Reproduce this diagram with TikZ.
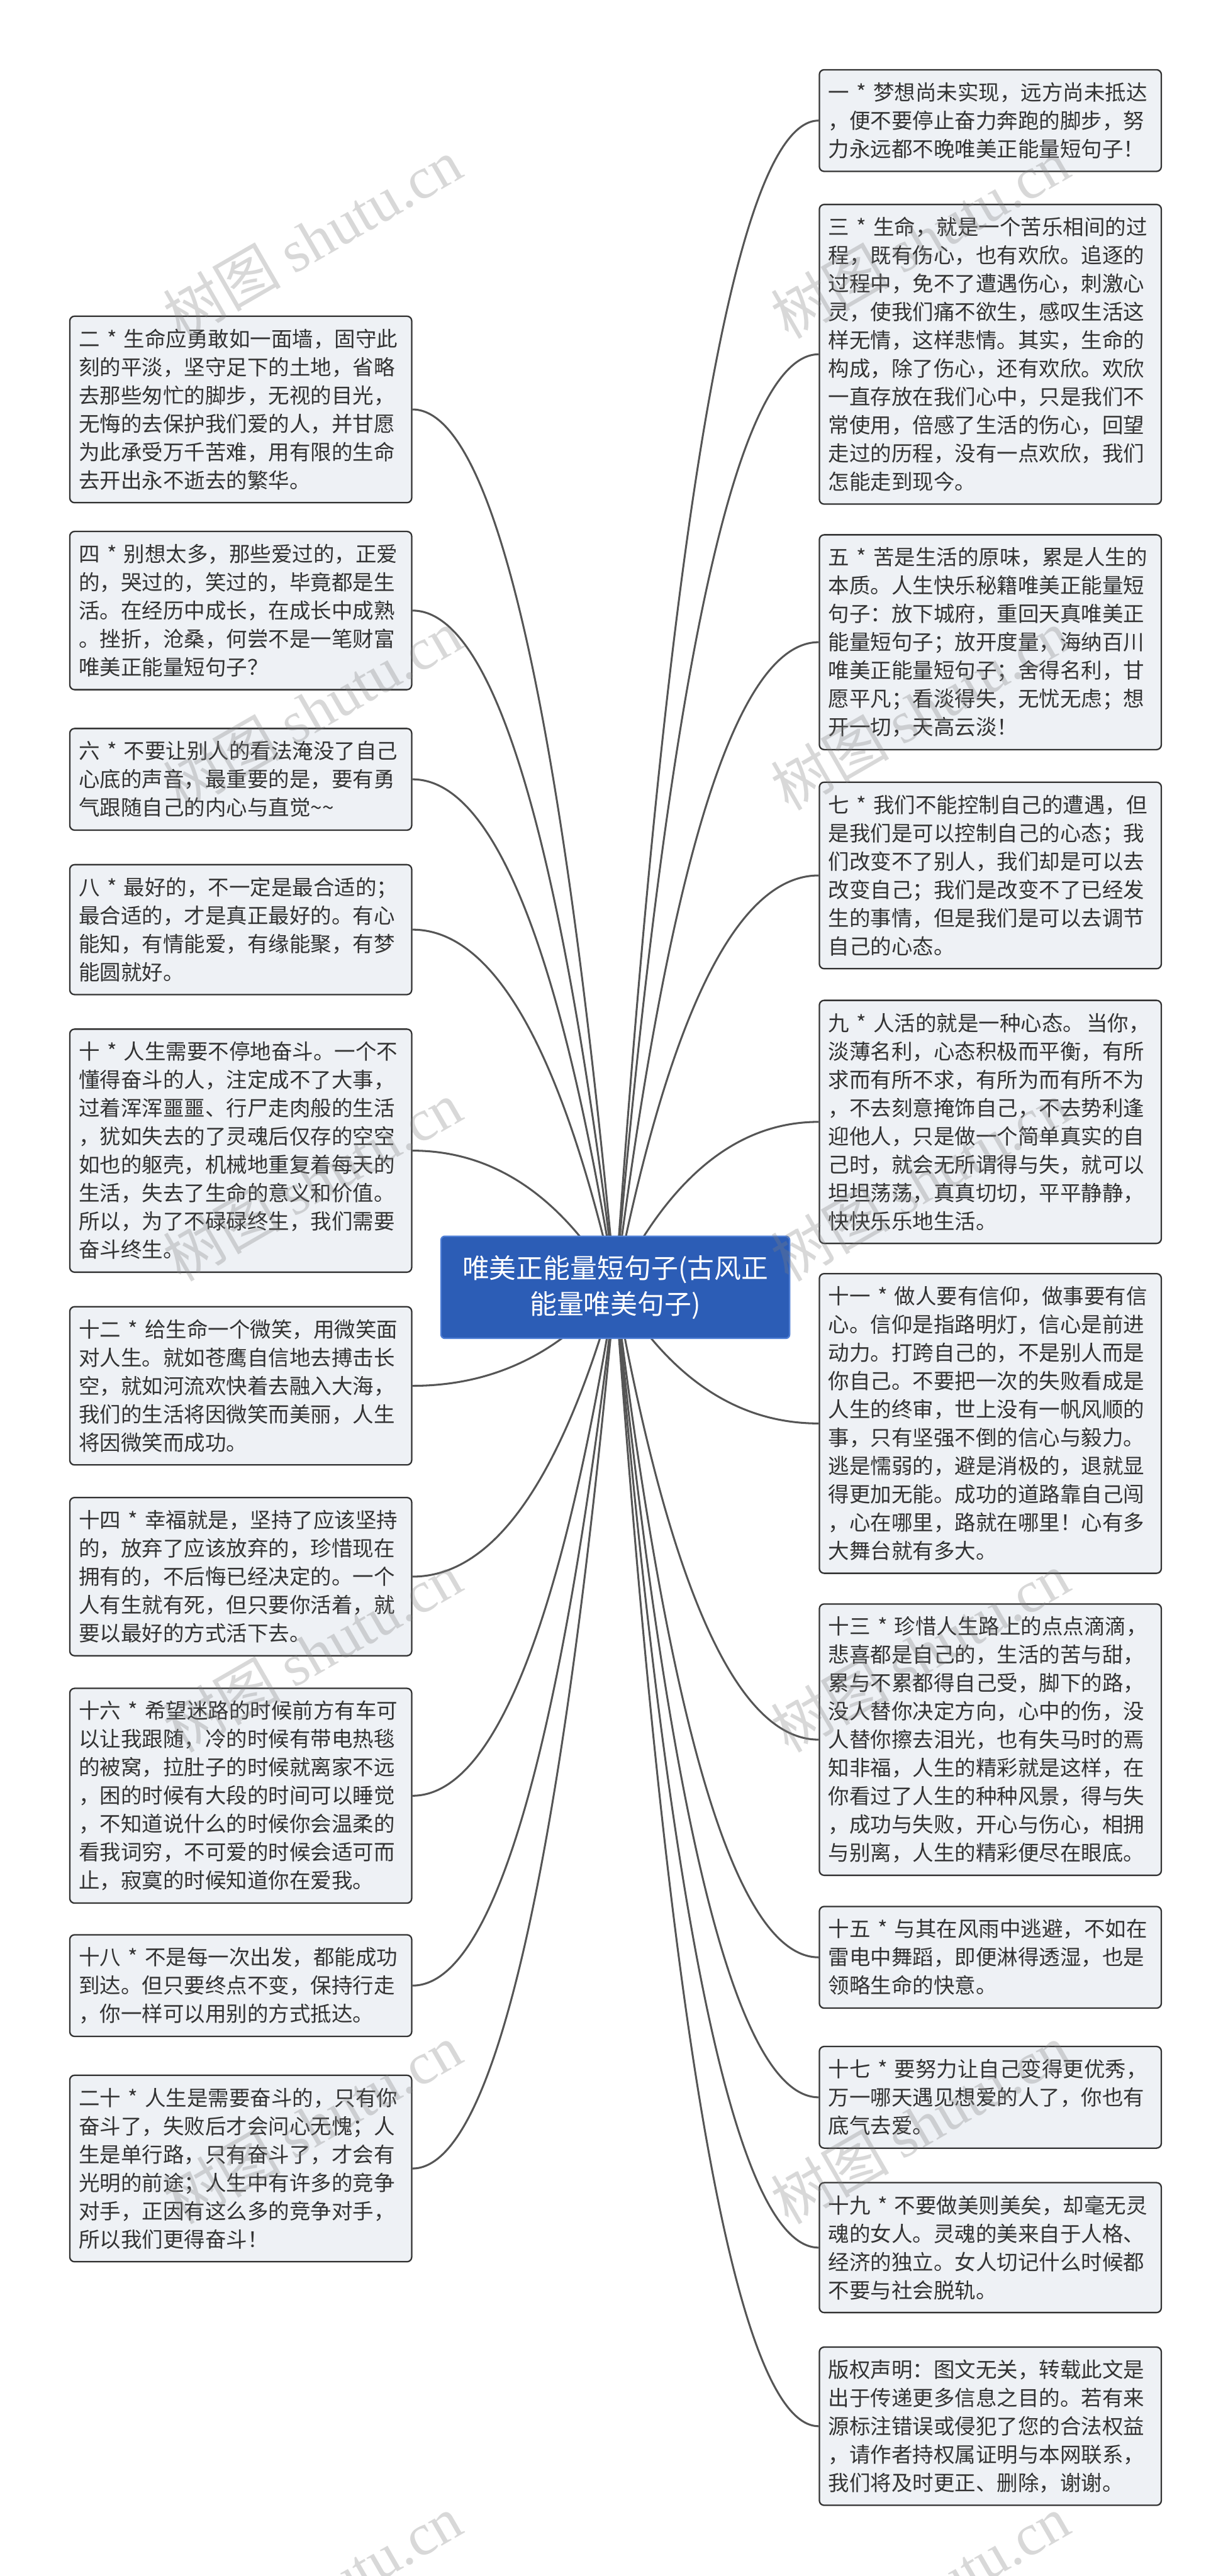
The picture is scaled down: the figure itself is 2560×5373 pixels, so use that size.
\documentclass[tikz,border=0pt]{standalone}
\usepackage{fontspec}
\setmainfont{Noto Sans CJK SC}
\newfontfamily\cjk{Noto Sans CJK SC}
\newfontfamily\wmserif{Liberation Serif}
\usetikzlibrary{calc,backgrounds}
\definecolor{boxfill}{HTML}{EEF1F5}
\definecolor{boxline}{HTML}{333333}
\definecolor{txtc}{HTML}{333333}
\definecolor{linkc}{HTML}{555555}
\definecolor{rootfill}{HTML}{2C5DB6}
\definecolor{rootline}{HTML}{4F7FD6}
\tikzset{
  leaf/.style={draw=boxline, line width=0.3mm, fill=boxfill, rounded corners=1mm,
    anchor=north west, text width=67.5mm, inner xsep=1.9mm, inner ysep=1mm,
    align=left, text=txtc, font=\cjk\fontsize{12.5pt}{16.8pt}\selectfont},
  rootbox/.style={draw=rootline, line width=0.3mm, fill=rootfill, rounded corners=0.8mm,
    anchor=north west, minimum width=72.7mm, minimum height=21.3mm, align=center,
    text=white, font=\cjk\fontsize{16pt}{21.3pt}\selectfont},
  conn/.style={draw=linkc, line width=0.4mm},
  wm/.style={text=gray, opacity=0.3, rotate=30, font=\cjk\fontsize{35pt}{35pt}\selectfont}
}
\newcommand\rconn[1]{%
  \coordinate (cc#1) at ($(root.center |- #1.west)!0.4!(#1.west)$);
  \draw[conn] (root.center) .. controls ($(root.center)!0.6667!(cc#1)$) and ($(#1.west)!0.6667!(cc#1)$) .. (#1.west);}
\newcommand\lconn[1]{%
  \coordinate (cc#1) at ($(root.center |- #1.east)!0.4!(#1.east)$);
  \draw[conn] (root.center) .. controls ($(root.center)!0.6667!(cc#1)$) and ($(#1.east)!0.6667!(cc#1)$) .. (#1.east);}
\begin{document}
\begin{tikzpicture}[x=0.1mm,y=-0.1mm]
\useasboundingbox (0,0) rectangle (2560,5373);
% root
\node[rootbox] (root) at (918,2577) {唯美正能量短句子(古风正\\能量唯美句子)};
% right column
\node[leaf, minimum height=21.2mm] (R1) at (1707,144) {一 * 梦想尚未实现，远方尚未抵达\\，便不要停止奋力奔跑的脚步，努\\力永远都不晚唯美正能量短句子！};
\node[leaf, minimum height=62.5mm] (R3) at (1707,425) {三 * 生命，就是一个苦乐相间的过\\程，既有伤心，也有欢欣。追逐的\\过程中，免不了遭遇伤心，刺激心\\灵，使我们痛不欲生，感叹生活这\\样无情，这样悲情。其实，生命的\\构成，除了伤心，还有欢欣。欢欣\\一直存放在我们心中，只是我们不\\常使用，倍感了生活的伤心，回望\\走过的历程，没有一点欢欣，我们\\怎能走到现今。};
\node[leaf, minimum height=44.8mm] (R5) at (1707,1114) {五 * 苦是生活的原味，累是人生的\\本质。人生快乐秘籍唯美正能量短\\句子：放下城府，重回天真唯美正\\能量短句子；放开度量，海纳百川\\唯美正能量短句子；舍得名利，甘\\愿平凡；看淡得失，无忧无虑；想\\开一切，天高云淡！};
\node[leaf, minimum height=38.9mm] (R7) at (1707,1630) {七 * 我们不能控制自己的遭遇，但\\是我们是可以控制自己的心态；我\\们改变不了别人，我们却是可以去\\改变自己；我们是改变不了已经发\\生的事情，但是我们是可以去调节\\自己的心态。};
\node[leaf, minimum height=50.7mm] (R9) at (1707,2085) {九~*~人活的就是一种心态。\kern0.12em 当你，\\淡薄名利，心态积极而平衡，有所\\求而有所不求，有所为而有所不为\\，不去刻意掩饰自己，不去势利逢\\迎他人，只是做一个简单真实的自\\己时，就会无所谓得与失，就可以\\坦坦荡荡，真真切切，平平静静，\\快快乐乐地生活。};
\node[leaf, minimum height=62.5mm] (R11) at (1707,2655) {十一 * 做人要有信仰，做事要有信\\心。信仰是指路明灯，信心是前进\\动力。打跨自己的，不是别人而是\\你自己。不要把一次的失败看成是\\人生的终审，世上没有一帆风顺的\\事，只有坚强不倒的信心与毅力。\\逃是懦弱的，避是消极的，退就显\\得更加无能。成功的道路靠自己闯\\，心在哪里，路就在哪里！心有多\\大舞台就有多大。};
\node[leaf, minimum height=56.6mm] (R13) at (1707,3344) {十三 * 珍惜人生路上的点点滴滴，\\悲喜都是自己的，生活的苦与甜，\\累与不累都得自己受，脚下的路，\\没人替你决定方向，心中的伤，没\\人替你擦去泪光，也有失马时的焉\\知非福，人生的精彩就是这样，在\\你看过了人生的种种风景，得与失\\，成功与失败，开心与伤心，相拥\\与别离，人生的精彩便尽在眼底。};
\node[leaf, minimum height=21.2mm] (R15) at (1707,3975) {十五 * 与其在风雨中逃避，不如在\\雷电中舞蹈，即便淋得透湿，也是\\领略生命的快意。};
\node[leaf, minimum height=21.2mm] (R17) at (1707,4267) {十七 * 要努力让自己变得更优秀，\\万一哪天遇见想爱的人了，你也有\\底气去爱。};
\node[leaf, minimum height=27.1mm] (R19) at (1707,4551) {十九 * 不要做美则美矣，却毫无灵\\魂的女人。灵魂的美来自于人格、\\经济的独立。女人切记什么时候都\\不要与社会脱轨。};
\node[leaf, minimum height=33.0mm] (R21) at (1707,4894) {版权声明：图文无关，转载此文是\\出于传递更多信息之目的。若有来\\源标注错误或侵犯了您的合法权益\\，请作者持权属证明与本网联系，\\我们将及时更正、删除，谢谢。};
% left column
\node[leaf, minimum height=38.9mm] (L2) at (144,658) {二 * 生命应勇敢如一面墙，固守此\\刻的平淡，坚守足下的土地，省略\\去那些匆忙的脚步，无视的目光，\\无悔的去保护我们爱的人，并甘愿\\为此承受万千苦难，用有限的生命\\去开出永不逝去的繁华。};
\node[leaf, minimum height=33.0mm] (L4) at (144,1107) {四 * 别想太多，那些爱过的，正爱\\的，哭过的，笑过的，毕竟都是生\\活。在经历中成长，在成长中成熟\\。挫折，沧桑，何尝不是一笔财富\\唯美正能量短句子？};
\node[leaf, minimum height=21.2mm] (L6) at (144,1518) {六 * 不要让别人的看法淹没了自己\\心底的声音，最重要的是，要有勇\\气跟随自己的内心与直觉\textasciitilde\textasciitilde};
\node[leaf, minimum height=27.1mm] (L8) at (144,1802) {八 * 最好的，不一定是最合适的；\\最合适的，才是真正最好的。有心\\能知，有情能爱，有缘能聚，有梦\\能圆就好。};
\node[leaf, minimum height=50.7mm] (L10) at (144,2145) {十 * 人生需要不停地奋斗。一个不\\懂得奋斗的人，注定成不了大事，\\过着浑浑噩噩、行尸走肉般的生活\\，犹如失去的了灵魂后仅存的空空\\如也的躯壳，机械地重复着每天的\\生活，失去了生命的意义和价值。\\所以，为了不碌碌终生，我们需要\\奋斗终生。};
\node[leaf, minimum height=33.0mm] (L12) at (144,2724) {十二 * 给生命一个微笑，用微笑面\\对人生。就如苍鹰自信地去搏击长\\空，就如河流欢快着去融入大海，\\我们的生活将因微笑而美丽，人生\\将因微笑而成功。};
\node[leaf, minimum height=33.0mm] (L14) at (144,3122) {十四 * 幸福就是，坚持了应该坚持\\的，放弃了应该放弃的，珍惜现在\\拥有的，不后悔已经决定的。一个\\人有生就有死，但只要你活着，就\\要以最好的方式活下去。};
\node[leaf, minimum height=44.8mm] (L16) at (144,3520) {十六 * 希望迷路的时候前方有车可\\以让我跟随，冷的时候有带电热毯\\的被窝，拉肚子的时候就离家不远\\，困的时候有大段的时间可以睡觉\\，不知道说什么的时候你会温柔的\\看我词穷，不可爱的时候会适可而\\止，寂寞的时候知道你在爱我。};
\node[leaf, minimum height=21.2mm] (L18) at (144,4034) {十八 * 不是每一次出发，都能成功\\到达。但只要终点不变，保持行走\\，你一样可以用别的方式抵达。};
\node[leaf, minimum height=38.9mm] (L20) at (144,4327) {二十 * 人生是需要奋斗的，只有你\\奋斗了，失败后才会问心无愧；人\\生是单行路，只有奋斗了，才会有\\光明的前途；人生中有许多的竞争\\对手，正因有这么多的竞争对手，\\所以我们更得奋斗！};
% connectors behind
\begin{scope}[on background layer]
\fill[white] (0,0) rectangle (2560,5373);
\foreach \n in {R1,R3,R5,R7,R9,R11,R13,R15,R17,R19,R21} {\rconn{\n}}
\foreach \n in {L2,L4,L6,L8,L10,L12,L14,L16,L18,L20} {\lconn{\n}}
\end{scope}
% watermarks
\foreach \yy in {497,1480,2463,3446,4430,5413} {
  \node[wm] (wl\yy) at (651,\yy) {树图 {\wmserif shutu.cn}};
  \node[wm] (wr\yy) at (1919,\yy) {树图 {\wmserif shutu.cn}};
}
\end{tikzpicture}
\end{document}
